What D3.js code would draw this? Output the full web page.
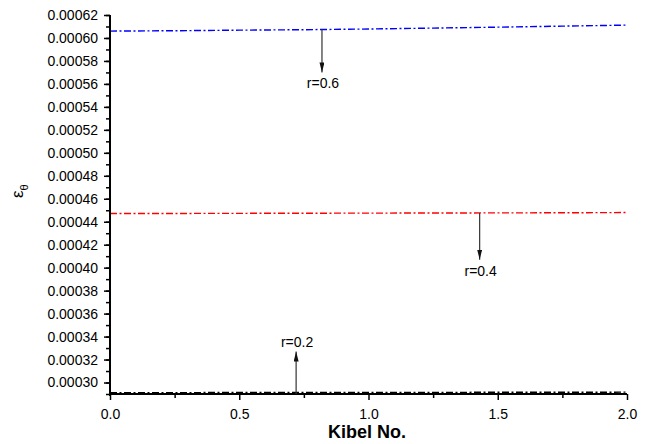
<!DOCTYPE html>
<html>
<head>
<meta charset="utf-8">
<script src="https://cdn.jsdelivr.net/npm/d3@7"></script>
<style>
  body { margin: 0; background: #fff; }
  svg text { font-family: Arial, "Liberation Sans", sans-serif; fill: #000; }
</style>
</head>
<body>
<div id="chart"></div>
<script>
// data
const kibel = [0, 0.25, 0.5, 0.75, 1.0, 1.25, 1.5, 1.75, 2.0];
const r06 = [0.0006060, 0.0006063, 0.0006068, 0.0006072, 0.0006078, 0.0006086, 0.0006094, 0.0006103, 0.0006112];
const r04 = [0.0004471, 0.0004472, 0.0004473, 0.0004474, 0.0004475, 0.0004476, 0.0004477, 0.0004478, 0.0004480];
const r02 = [0.0002912, 0.0002912, 0.0002913, 0.0002913, 0.0002914, 0.0002914, 0.0002915, 0.0002915, 0.0002916];
const seriesNames = ['r=0.6', 'r=0.4', 'r=0.2'];
const seriesColors = ['#0000ff', '#ff0000', '#000000'];
const yTicks = [0.00030, 0.00032, 0.00034, 0.00036, 0.00038, 0.00040, 0.00042, 0.00044, 0.00046, 0.00048, 0.00050, 0.00052, 0.00054, 0.00056, 0.00058, 0.00060, 0.00062];
const xTicks = [0, 0.5, 1.0, 1.5, 2.0];
// annotation arrows (x value, start and end of the arrow, label)
const notes = [
  {x: 0.82, from: 0.0006075, to: 0.000570, label: 'r=0.6', down: true},
  {x: 1.43, from: 0.0004476, to: 0.000407, label: 'r=0.4', down: true},
  {x: 0.72, from: 0.000290, to: 0.000327, label: 'r=0.2', down: false}
];

const W = 652, H = 444;
const m = {left: 110, right: 25, top: 15, bottom: 50};

const svg = d3.select('#chart').append('svg').attr('width', W).attr('height', H);

const x = d3.scaleLinear().domain([0, 2]).range([m.left, 627]);
const y = d3.scaleLinear().domain([0.00029, 0.00062]).range([394, 15]);

// series
const allSeries = [r06, r04, r02];
const line = d3.line().x((d, i) => x(kibel[i])).y(d => y(d));
allSeries.forEach(function(s, k) {
  svg.append('path')
     .datum(s)
     .attr('d', line)
     .attr('fill', 'none')
     .attr('stroke', seriesColors[k])
     .attr('stroke-width', 1.4)
     .attr('stroke-dasharray', '7,2.5,2,2.5');
});

// axes
const yMinor = d3.range(0.00029, 0.000621, 0.00001);
svg.append('g').attr('transform', 'translate(' + m.left + ',0)')
   .call(d3.axisLeft(y).tickValues(yMinor).tickSize(4).tickFormat(''))
   .call(g => g.select('.domain').remove())
   .selectAll('line').attr('stroke-width', 1.5);
const yAxis = svg.append('g').attr('transform', 'translate(' + m.left + ',0)')
   .call(d3.axisLeft(y).tickValues(yTicks).tickSize(6).tickPadding(6).tickFormat(d3.format('.5f')));
yAxis.select('.domain').attr('stroke-width', 2).attr('d', 'M0,' + y(0.00062) + 'V396');
yAxis.selectAll('line').attr('stroke-width', 1.5);
yAxis.selectAll('text').style('font-size', '14px').attr('fill', '#000');

const xAxis = svg.append('g').attr('transform', 'translate(0,394)')
   .call(d3.axisBottom(x).tickValues([0.25, 0.75, 1.25, 1.75]).tickSize(4).tickFormat(''));
xAxis.select('.domain').remove();
xAxis.selectAll('line').attr('stroke-width', 1.5);
const xMain = svg.append('g').attr('transform', 'translate(0,394)')
   .call(d3.axisBottom(x).tickValues(xTicks).tickSize(6).tickPadding(9).tickFormat(d3.format('.1f')));
xMain.select('.domain').attr('stroke-width', 2).attr('d', 'M' + (m.left - 1) + ',0H' + x(2));
xMain.selectAll('line').attr('stroke-width', 1.5);
xMain.selectAll('text').style('font-size', '14px').attr('fill', '#000');

// titles
svg.append('text')
   .attr('x', 367).attr('y', 438)
   .attr('text-anchor', 'middle')
   .style('font-size', '18px').style('font-weight', 'bold')
   .text('Kibel No.');
const yl = svg.append('text')
   .attr('transform', 'translate(23,198) rotate(-90)')
   .style('font-size', '17px');
yl.append('tspan').text('ε');
yl.append('tspan').attr('dy', 5).style('font-size', '11px').text('θ');

// arrows
svg.append('defs').append('marker')
   .attr('id', 'head').attr('viewBox', '0 0 10 10')
   .attr('refX', 10).attr('refY', 5)
   .attr('markerWidth', 10).attr('markerHeight', 5)
   .attr('markerUnits', 'userSpaceOnUse')
   .attr('orient', 'auto')
   .attr('preserveAspectRatio', 'none')
   .append('path').attr('d', 'M0,0L10,5L0,10Z').attr('fill', '#111');

notes.forEach(function(n) {
  svg.append('line')
     .attr('x1', x(n.x)).attr('x2', x(n.x))
     .attr('y1', y(n.from)).attr('y2', y(n.to))
     .attr('stroke', '#333').attr('stroke-width', 1.2)
     .attr('marker-end', 'url(#head)');
  svg.append('text')
     .attr('x', x(n.x) + 1)
     .attr('y', n.down ? y(n.to) + 16 : y(n.to) - 5)
     .attr('text-anchor', 'middle')
     .style('font-size', '14px')
     .text(n.label);
});
</script>
</body>
</html>
